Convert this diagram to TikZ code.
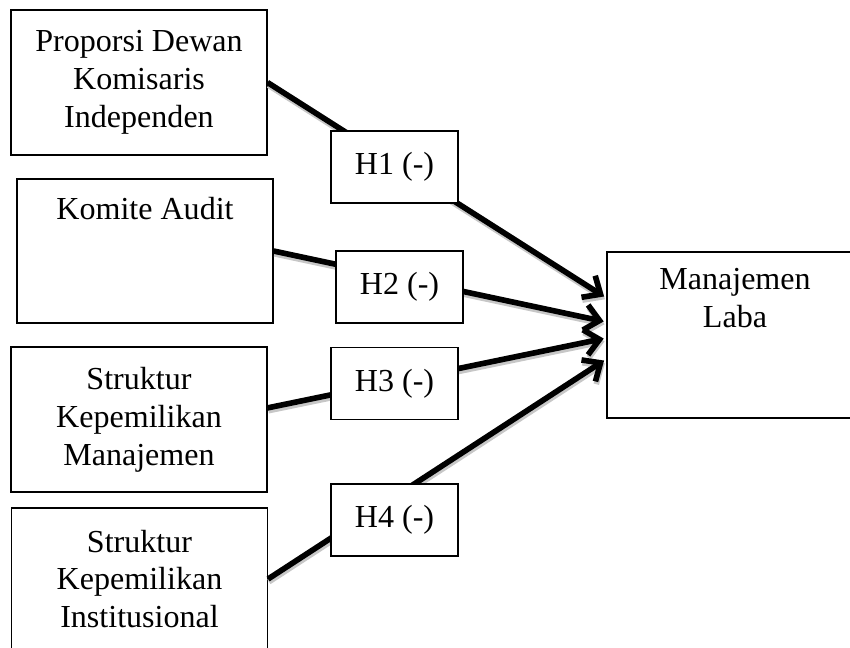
\documentclass[tikz,border=0pt]{standalone}
\usepackage{fontspec}
\setmainfont{Liberation Serif}
\usetikzlibrary{arrows.meta, positioning}

\begin{document}
\begin{tikzpicture}[
		font=\fontsize{22.8}{27}\selectfont,
		box/.style={draw, line width=0.8pt, minimum width=6.4cm, align=center, inner sep=0pt},
		hyp/.style={draw, fill=white, line width=0.8pt, minimum width=3.175cm, minimum height=1.8cm, inner sep=0pt},
		boxtext/.style={align=center, inner sep=0pt, anchor=north},
		link/.style={line width=4pt, shorten >=2pt, -{Straight Barb[length=3.6mm, width=6.4mm]}},
		linkshadow/.style={link, draw=black!22, transform canvas={shift={(0.6pt,-2pt)}}}
	]

	\useasboundingbox (0,0) rectangle (21.25,-16.2);

	\def\xLeft{3.475}
	\def\xHyp{9.8625}

	%% 1. Independent variables
	\node[box, minimum height=3.625cm] (pdki) at (\xLeft,-2.0625)
		{Proporsi Dewan\\Komisaris\\Independen};

	\node[box, minimum height=3.6cm] (ka) at (3.625,-6.275) {};
	\node[boxtext] (katext) at ([yshift=-0.475cm]ka.north) {Komite Audit};

	\node[box, minimum height=3.625cm] (kpm) at (\xLeft,-10.4875)
		{Struktur\\Kepemilikan\\Manajemen};

	\node[box, minimum height=3.55cm] (kpi) at (3.4875,-14.475)
		{Struktur\\Kepemilikan\\Institusional};

	%% 2. Dependent variable
	\node[box, minimum height=4.15cm] (ml) at (18.375,-8.375) {};
	\node[boxtext] (mltext) at ([yshift=-0.425cm]ml.north) {Manajemen\\Laba};

	%% 3. Paths (shadow first, then the line)
	\foreach \from/\dfrom/\dto in {pdki/0/0.925, ka/0/0.325, kpm/0.29/-0.075, kpi/0/-0.6} {
		\draw[linkshadow] ([yshift=\dfrom cm]\from.east) -- ([yshift=\dto cm]ml.west);
		\draw[link] ([yshift=\dfrom cm]\from.east) -- ([yshift=\dto cm]ml.west);
	}

	%% 4. Hypothesis labels (on top of the paths)
	\node[hyp] (h1) at (\xHyp,-4.175) {H1 (-)};
	\node[hyp] (h2) at (9.9875,-7.175) {H2 (-)};
	\node[hyp] (h3) at (\xHyp,-9.5875) {H3 (-)};
	\node[hyp] (h4) at (\xHyp,-13.0) {H4 (-)};

\end{tikzpicture}
\end{document}
